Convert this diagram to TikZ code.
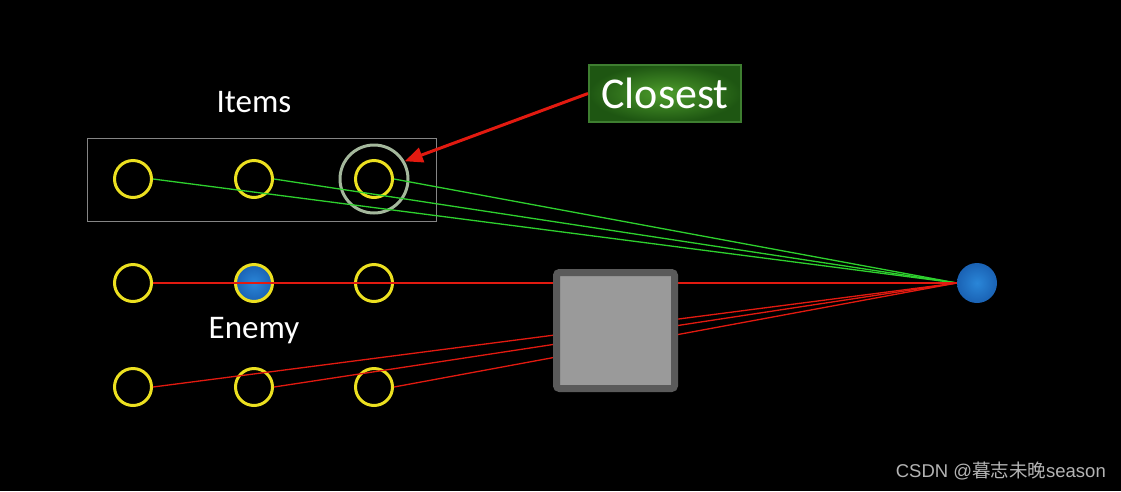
\documentclass[tikz,border=0pt]{standalone}
\usepackage{fontspec}
\setmainfont{Carlito}
\newfontfamily\wmfont{Liberation Sans}
\newfontfamily\cjkfont{Noto Sans CJK SC}
\usetikzlibrary{arrows.meta,shadings}
\definecolor{ylw}{HTML}{ECE020}
\definecolor{grn}{HTML}{2ED02E}
\definecolor{rd}{HTML}{E21A10}
\definecolor{blu}{HTML}{1A62B4}
\definecolor{bluL}{HTML}{2A86D8}
\definecolor{ringc}{HTML}{A4B89C}
\definecolor{boxgray}{HTML}{858585}
\definecolor{sqfill}{HTML}{9A9A9A}
\definecolor{sqedge}{HTML}{5A5A5A}
\definecolor{clin}{HTML}{4E9E2C}
\definecolor{clout}{HTML}{1E5612}
\definecolor{cledge}{HTML}{3E7E30}
\definecolor{wm}{HTML}{B4B4B4}
\tikzset{
  slot/.style={circle, draw=ylw, line width=3pt, minimum size=37pt, inner sep=0pt},
  enemyslot/.style={slot, inner color=bluL, outer color=blu},
  target/.style={circle, inner color=bluL, outer color=blu, minimum size=40pt, inner sep=0pt},
  ray/.style={line width=1.3pt},
  greenray/.style={ray, draw=grn},
  redray/.style={ray, draw=rd},
  lbl/.style={text=white, font=\fontsize{33}{36}\selectfont},
}
\begin{document}
\begin{tikzpicture}[x=1pt,y=-1pt]
\fill[black] (0,0) rectangle (1121,491);
\useasboundingbox (0,0) rectangle (1121,491);
% item group frame
\node[draw=boxgray, line width=1.5pt, minimum width=349pt, minimum height=83pt, inner sep=0pt] (grp) at (262,180) {};
\node[lbl] (items) at (254,102) {Items};
\node[lbl] (enemy) at (254,331) {Enemy};
% target
\node[target] (t) at (977,283) {};
% slots
\node[slot] (a1) at (133,179) {};
\node[slot] (a2) at (254,179) {};
\node[slot] (a3) at (374,179) {};
\node[slot] (b1) at (133,283) {};
\node[enemyslot] (b2) at (254,283) {};
\node[slot] (b3) at (374,283) {};
\node[slot] (c1) at (133,387) {};
\node[slot] (c2) at (254,387) {};
\node[slot] (c3) at (374,387) {};
\node[circle, draw=ringc, line width=3pt, minimum size=68pt, inner sep=0pt] (ring) at (374,179) {};
% rays
\draw[greenray] (a1.east) -- (t.west);
\draw[greenray] (a2.east) -- (t.west);
\draw[greenray] (a3.east) -- (t.west);
\draw[redray] (b1.east) -- (t.west);
\draw[redray] (c1.east) -- (t.west);
\draw[redray] (c2.east) -- (t.west);
\draw[redray] (c3.east) -- (t.west);
% obstacle
\node[draw=sqedge, fill=sqfill, line width=7pt, rounded corners=3pt, minimum width=118pt, minimum height=116pt, inner sep=0pt] (wall) at (615.5,330.5) {};
% closest label
\node[inner color=clin, outer color=clout, draw=cledge, line width=2pt, minimum width=152pt, minimum height=57pt, inner sep=0pt, text=white, font=\fontsize{44}{48}\selectfont] (cl) at (665,93.5) {Closest};
\draw[rd, line width=3pt, -{Triangle[length=18pt,width=15pt]}] (cl.west) -- (ring.30);
% watermark
\node[anchor=east, text=wm, inner sep=0pt, font=\fontsize{18.5}{22}\selectfont] (wmk) at (1106,471) {\wmfont CSDN @\cjkfont 暮志未晚\wmfont season};
\end{tikzpicture}
\end{document}
